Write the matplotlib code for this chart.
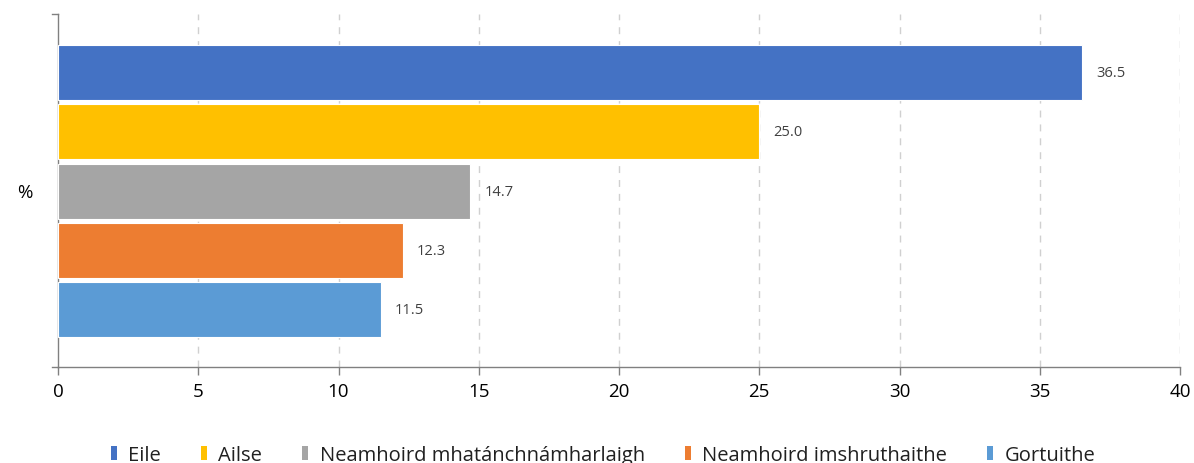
import matplotlib.pyplot as plt
from matplotlib.lines import Line2D

plt.rcParams['font.family'] = ['Open Sans', 'DejaVu Sans']

# Data
categories = ['Eile', 'Ailse', 'Neamhoird mhatánchnámharlaigh',
              'Neamhoird imshruthaithe', 'Gortuithe']
values = [36.5, 25.0, 14.7, 12.3, 11.5]
colors = ['#4472C4', '#FFC000', '#A5A5A5', '#ED7D31', '#5B9BD5']

fig = plt.figure(figsize=(11.94, 4.64), dpi=100)
ax = fig.add_axes([58/1194, 1-368/464, (1180-58)/1194, (368-15)/464])

pos = list(range(len(values)))
ax.barh(pos, values, height=0.93, color=colors, edgecolor='white', linewidth=0.8, zorder=3)
for p, v in zip(pos, values):
    ax.text(v + 0.5, p, '%.1f' % v, va='center', ha='left', fontsize=10.5, color='#404040')

ax.set_ylim(4.97, -0.99)
ax.set_xlim(0, 40)
ax.set_xticks(range(0, 41, 5))
ax.set_yticks([])
ax.tick_params(axis='x', labelsize=13.5, colors='#808080', labelcolor='#000000', length=6, width=1, pad=5)

# Spines and grid
for s in ['top', 'right']:
    ax.spines[s].set_visible(False)
for s in ['left', 'bottom']:
    ax.spines[s].set_color('#808080')
    ax.spines[s].set_linewidth(1)
for x in range(5, 41, 5):
    ax.axvline(x, ls=(0, (5, 5)), c='#D0D0D0', lw=1, zorder=1)

# Small end ticks on the category axis
ax.plot([-0.2, 0], [-0.99, -0.99], c='#808080', lw=1, clip_on=False)
ax.plot([-0.2, 0], [4.97, 4.97], c='#808080', lw=1, clip_on=False)

fig.text(25/1194, 1-193/464, '%', fontsize=13.5, ha='center', va='center')

# Legend with narrow upright swatches
swatch = [(-0.25, -0.5), (0.25, -0.5), (0.25, 0.5), (-0.25, 0.5), (-0.25, -0.5)]
handles = [Line2D([], [], marker=swatch, ls='', markersize=10, color=c, markeredgewidth=0)
           for c in colors]
fig.legend(handles, categories, loc='center', bbox_to_anchor=(0.503, 1-456/464), ncol=5,
           frameon=False, fontsize=14.5, handletextpad=0.3, columnspacing=1.75,
           handlelength=0.8, labelcolor='#202020')

fig.savefig('out.png', dpi=100)
